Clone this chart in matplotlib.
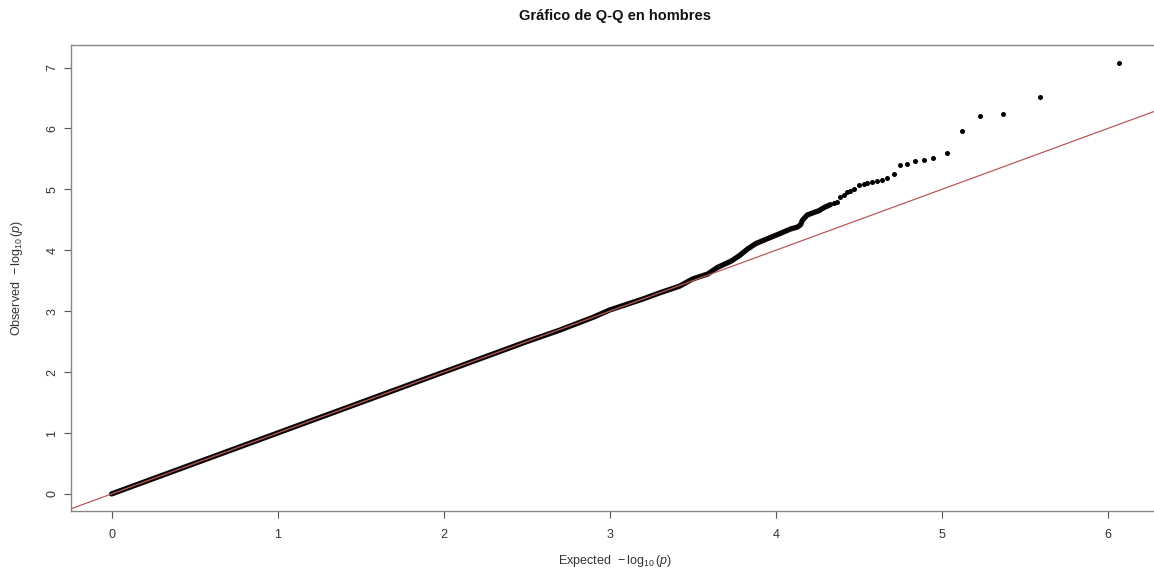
import matplotlib
matplotlib.use("Agg")
import matplotlib.pyplot as plt

plt.rcParams['font.family'] = ['Liberation Sans', 'DejaVu Sans']
plt.rcParams['mathtext.fontset'] = 'custom'
plt.rcParams['mathtext.rm'] = 'Liberation Sans'
plt.rcParams['mathtext.it'] = 'Liberation Sans:italic'
plt.rcParams['mathtext.bf'] = 'Liberation Sans:bold'

# ---- data ----
title = "Gráfico de Q-Q en hombres"
xlabel = r"Expected $\,-\log_{10}(p)$"
ylabel = r"Observed $\,-\log_{10}(p)$"
xticks = [0, 1, 2, 3, 4, 5, 6]
yticks = [0, 1, 2, 3, 4, 5, 6, 7]

# dense part of the cloud (points overlap into a continuous band)
dense_expected = [0.00, 0.25, 0.50, 0.75, 1.00, 1.25, 1.50, 1.75, 2.00, 2.25,
                  2.50, 2.70, 2.90, 3.00, 3.10, 3.20, 3.30, 3.42, 3.50, 3.59,
                  3.65, 3.73, 3.78, 3.83, 3.88, 3.95, 4.03, 4.09, 4.13, 4.15,
                  4.16, 4.19, 4.22, 4.26, 4.29, 4.33]
dense_observed = [0.00, 0.25, 0.50, 0.75, 1.00, 1.25, 1.50, 1.75, 2.00, 2.25,
                  2.50, 2.69, 2.90, 3.02, 3.11, 3.20, 3.30, 3.41, 3.53, 3.61,
                  3.72, 3.82, 3.91, 4.02, 4.11, 4.19, 4.28, 4.35, 4.38, 4.42,
                  4.49, 4.58, 4.61, 4.65, 4.70, 4.75]

# sparse tail (individual points)
tail_expected = [4.35, 4.37, 4.39, 4.41, 4.43, 4.45, 4.47, 4.50, 4.53, 4.55,
                 4.58, 4.61, 4.64, 4.67, 4.71, 4.75, 4.79, 4.84, 4.89, 4.95,
                 5.03, 5.12, 5.23, 5.37, 5.59, 6.07]
tail_observed = [4.77, 4.80, 4.87, 4.90, 4.95, 4.97, 5.00, 5.07, 5.09, 5.10,
                 5.12, 5.13, 5.15, 5.18, 5.25, 5.40, 5.42, 5.47, 5.49, 5.51,
                 5.60, 5.95, 6.21, 6.23, 6.51, 7.07]

# ---- figure ----
W, H = 1154, 573
fig = plt.figure(figsize=(W / 100, H / 100), dpi=100)
ax = fig.add_axes([71 / W, 1 - 511 / H, (1156 - 71) / W, (511 - 45) / H])

ax.plot(dense_expected, dense_observed, color='#0a0505', lw=3.8,
        solid_capstyle='round', solid_joinstyle='round', zorder=2)
ax.scatter(tail_expected, tail_observed, s=13, color='black',
           linewidths=0, zorder=2)

ax.axline((0, 0), slope=1, color='#b85a5a', lw=0.9, zorder=3)

ax.set_xlim(-0.244, 6.29)
ax.set_ylim(-0.28, 7.37)
ax.set_xticks(xticks)
ax.set_yticks(yticks)
ax.tick_params(axis='both', direction='out', length=5, width=0.8,
               color='#555555', labelcolor='#333333', labelsize=9)
ax.tick_params(axis='x', pad=8)
ax.tick_params(axis='y', pad=4)
for lab in ax.get_yticklabels():
    lab.set_rotation(90)
    lab.set_va('center')
for s in ax.spines.values():
    s.set_color('#888888')
    s.set_linewidth(1.0)

fig.text(615 / W, 1 - 16 / H, title, ha='center', va='center',
         fontsize=10.5, fontweight='bold', color='#111111')
fig.text(615 / W, 1 - 561 / H, xlabel, ha='center', va='center',
         fontsize=9, color='#333333')
fig.text(17 / W, 1 - 278 / H, ylabel, ha='center', va='center',
         fontsize=9, color='#333333', rotation=90)

fig.savefig("out.png", dpi=100)
